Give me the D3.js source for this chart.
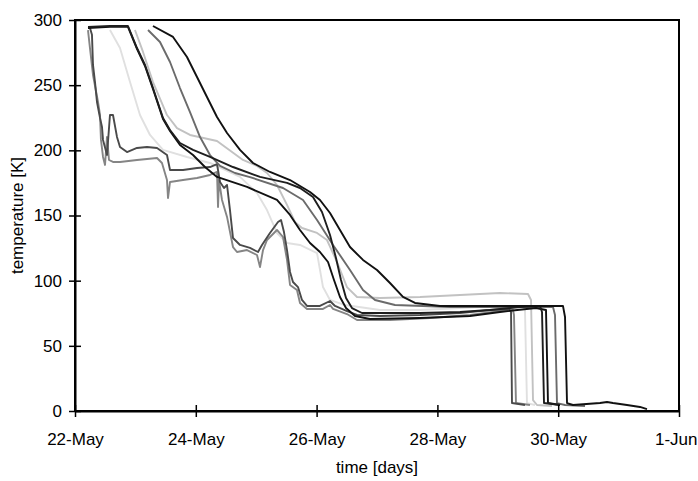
<!DOCTYPE html>
<html>
<head>
<meta charset="utf-8">
<script src="https://cdn.jsdelivr.net/npm/d3@7"></script>
<style>
  body { margin: 0; background: #fff; }
  text { font-family: "Liberation Sans", Arial, sans-serif; }
</style>
</head>
<body>
<div id="chart"></div>
<script>
// days since 22-May, temperature in K
const startDate = new Date(2000, 4, 22);
const xTickDays = [0, 2, 4, 6, 8, 10];
const yTicks = [0, 50, 100, 150, 200, 250, 300];

const seriesVeryLight = [[0.579,292.3],[0.745,278.5],[0.911,252.4],[1.076,227.1],[1.242,211.8],[1.457,200.3],[1.854,194.9],[2.235,190.3],[2.732,179.6],[3.013,167.3],[3.179,154.2],[3.344,136.6],[3.510,128.9],[3.725,127.4],[4.007,121.2],[4.106,95.1],[4.222,85.2],[4.470,81.3],[5.050,77.5],[5.712,77.5],[6.374,79.0],[7.036,80.6],[7.401,80.6],[7.450,77.5],[7.483,6.1],[7.616,4.6]];
const seriesLight = [[0.993,292.3],[1.126,275.5],[1.291,252.4],[1.523,227.1],[1.689,217.1],[1.904,211.8],[2.351,207.2],[2.781,192.6],[3.013,188.0],[3.179,182.6],[3.344,173.4],[3.510,158.1],[3.642,145.0],[3.758,140.4],[4.007,136.6],[4.172,131.2],[4.338,114.3],[4.503,95.1],[4.669,87.5],[5.050,86.7],[5.712,87.5],[6.374,89.0],[7.036,90.5],[7.500,89.8],[7.550,85.2],[7.583,8.4],[7.649,4.6],[7.897,3.8]];
const seriesGrayJagged = [[0.215,292.3],[0.248,278.5],[0.298,257.8],[0.381,237.1],[0.414,227.1],[0.430,208.0],[0.464,194.9],[0.497,188.8],[0.530,210.3],[0.563,192.6],[0.629,191.1],[0.745,191.1],[1.026,192.6],[1.358,194.1],[1.440,190.3],[1.523,177.2],[1.540,163.4],[1.573,175.7],[1.788,177.2],[2.020,178.8],[2.235,181.1],[2.351,183.4],[2.368,156.5],[2.384,177.2],[2.434,161.9],[2.517,148.9],[2.616,125.8],[2.682,122.0],[2.848,123.5],[3.013,119.7],[3.063,110.5],[3.113,123.5],[3.179,131.2],[3.344,138.9],[3.444,133.5],[3.510,115.9],[3.560,96.7],[3.675,92.8],[3.725,82.9],[3.841,78.3],[4.106,78.3],[4.222,81.3],[4.272,78.3],[4.503,74.4],[4.669,69.8],[5.215,69.8],[5.877,71.4],[6.540,73.7],[7.036,76.7],[7.252,77.5],[7.268,73.7],[7.301,6.1],[7.533,4.6]];
const seriesDarkJagged = [[0.215,293.9],[0.248,293.9],[0.281,288.6],[0.298,265.5],[0.331,252.4],[0.364,237.1],[0.414,224.9],[0.447,217.9],[0.464,208.0],[0.530,196.4],[0.579,227.1],[0.629,227.1],[0.695,210.3],[0.745,202.6],[0.861,198.7],[1.026,201.8],[1.192,202.6],[1.358,201.8],[1.523,196.4],[1.573,184.9],[1.788,184.9],[2.020,186.4],[2.235,187.2],[2.351,189.5],[2.401,175.7],[2.467,171.1],[2.517,173.4],[2.566,154.2],[2.616,132.7],[2.732,127.4],[2.897,125.1],[3.030,122.0],[3.096,127.4],[3.228,136.6],[3.361,145.0],[3.411,146.6],[3.460,137.3],[3.510,123.5],[3.560,106.7],[3.609,99.0],[3.692,95.1],[3.758,85.2],[3.841,80.6],[4.056,80.6],[4.222,84.4],[4.305,80.6],[4.503,76.7],[4.669,73.7],[5.050,72.9],[5.712,73.7],[6.374,75.2],[6.871,77.5],[7.185,78.3],[7.219,76.0],[7.235,6.1],[7.450,4.6]];
const seriesMidGray = [[1.209,292.3],[1.407,283.1],[1.573,267.8],[1.738,247.8],[1.904,229.4],[2.070,210.2],[2.235,196.4],[2.401,188.0],[2.649,182.6],[2.897,179.5],[3.444,171.1],[3.775,161.9],[4.007,146.6],[4.272,127.4],[4.553,108.2],[4.768,92.8],[4.967,85.2],[5.298,81.3],[6.209,79.8],[7.914,79.8],[7.947,73.7],[7.980,6.1],[8.113,4.6],[8.444,3.8]];
const seriesBlackLower = [[0.215,293.9],[0.579,294.7],[0.877,294.7],[1.026,277.8],[1.159,264.7],[1.291,247.1],[1.457,224.0],[1.573,214.8],[1.738,204.1],[1.954,196.4],[2.152,187.2],[2.351,179.6],[2.848,171.9],[3.344,161.9],[3.560,150.4],[3.725,138.9],[3.891,128.9],[4.056,122.0],[4.189,114.3],[4.288,100.5],[4.387,87.5],[4.487,79.0],[4.636,72.9],[4.884,70.6],[5.712,71.4],[6.540,72.9],[7.036,76.0],[7.632,79.0],[7.798,77.5],[7.831,6.1],[8.030,4.6]];
const seriesBlackUpper = [[0.215,294.7],[0.579,295.4],[0.877,295.4],[1.026,278.5],[1.159,265.5],[1.291,247.8],[1.457,224.8],[1.573,215.6],[1.738,205.6],[1.954,200.3],[2.235,194.9],[2.616,187.2],[3.063,179.6],[3.510,175.0],[3.725,171.1],[3.940,164.2],[4.089,152.7],[4.222,135.0],[4.321,117.4],[4.404,100.5],[4.487,86.7],[4.586,79.0],[4.752,75.2],[5.712,75.2],[6.374,76.0],[6.871,77.5],[7.368,79.8],[7.699,80.6],[7.732,76.0],[7.765,6.1],[8.030,4.6]];
const seriesBlackRight = [[1.291,295.4],[1.623,287.0],[1.854,271.6],[2.020,256.3],[2.185,240.9],[2.351,225.6],[2.517,213.3],[2.732,200.3],[2.947,190.3],[3.228,183.4],[3.560,177.2],[3.891,168.0],[4.056,161.9],[4.222,151.9],[4.387,138.9],[4.553,125.8],[4.768,115.9],[5.000,108.2],[5.215,98.2],[5.430,87.5],[5.629,82.9],[6.043,80.6],[7.036,80.6],[8.079,80.6],[8.113,72.1],[8.146,6.1],[8.245,4.6],[8.692,6.1],[8.808,6.9],[8.907,6.1],[9.139,4.6],[9.354,3.1],[9.470,1.5]];

const seriesList = [
  { values: seriesVeryLight, color: "#e0e0e0" },
  { values: seriesLight, color: "#c2c2c2" },
  { values: seriesGrayJagged, color: "#858585" },
  { values: seriesDarkJagged, color: "#4a4a4a" },
  { values: seriesMidGray, color: "#6b6b6b" },
  { values: seriesBlackLower, color: "#111111" },
  { values: seriesBlackUpper, color: "#1e1e1e" },
  { values: seriesBlackRight, color: "#111111" }
];

const width = 698, height = 481;
const margin = { top: 20, right: 19, bottom: 70, left: 75 };
const innerWidth = width - margin.left - margin.right;
const innerHeight = height - margin.top - margin.bottom;
const fontSize = "17px";

const toDate = d => new Date(startDate.getTime() + d * 86400000);

const svg = d3.select("#chart").append("svg")
  .attr("width", width)
  .attr("height", height)
  .style("background-color", "#fff");

const inner = svg.append("g")
  .attr("transform", `translate(${margin.left},${margin.top})`);

const xScale = d3.scaleTime()
  .domain([toDate(0), toDate(10)])
  .range([0, innerWidth]);

const yScale = d3.scaleLinear()
  .domain([0, 300])
  .range([innerHeight, 0]);

// Series lines
const line = d3.line()
  .x(d => xScale(toDate(d[0])))
  .y(d => yScale(d[1]));

inner.selectAll(".series")
  .data(seriesList)
  .enter()
  .append("path")
  .attr("class", "series")
  .attr("d", d => line(d.values))
  .attr("fill", "none")
  .attr("stroke", d => d.color)
  .attr("stroke-width", 1.9)
  .attr("stroke-linejoin", "round");

// Frame (top and right)
inner.append("rect")
  .attr("width", innerWidth)
  .attr("height", innerHeight)
  .attr("fill", "none")
  .attr("stroke", "#000")
  .attr("stroke-width", 2);

// Axes with crossing ticks
const yAxis = inner.append("g")
  .attr("font-size", fontSize)
  .call(d3.axisLeft(yScale).tickValues(yTicks).tickSize(6).tickSizeOuter(0).tickPadding(7));
yAxis.selectAll(".tick line").attr("x1", 6).attr("stroke-width", 1.5);

const xAxis = inner.append("g")
  .attr("transform", `translate(0,${innerHeight})`)
  .call(d3.axisBottom(xScale)
    .tickValues(xTickDays.map(toDate))
    .tickFormat(d3.timeFormat("%-d-%b"))
    .tickSize(6).tickSizeOuter(0).tickPadding(16));
xAxis.selectAll(".tick line").attr("y1", -6).attr("stroke-width", 1.5);
xAxis.selectAll(".tick:last-of-type text").attr("text-anchor", "end").attr("dx", 18);

[yAxis, xAxis].forEach(g => {
  g.attr("font-size", fontSize).attr("font-family", "'Liberation Sans', Arial, sans-serif");
  g.select(".domain").attr("stroke-width", 2);
  g.selectAll("text").attr("fill", "#000");
});

// Axis labels
inner.append("text")
  .attr("x", innerWidth / 2)
  .attr("y", innerHeight + 62)
  .attr("text-anchor", "middle")
  .attr("font-size", fontSize)
  .text("time [days]");

inner.append("text")
  .attr("transform", "rotate(-90)")
  .attr("x", -innerHeight / 2)
  .attr("y", -52)
  .attr("text-anchor", "middle")
  .attr("font-size", fontSize)
  .text("temperature [K]");
</script>
</body>
</html>
